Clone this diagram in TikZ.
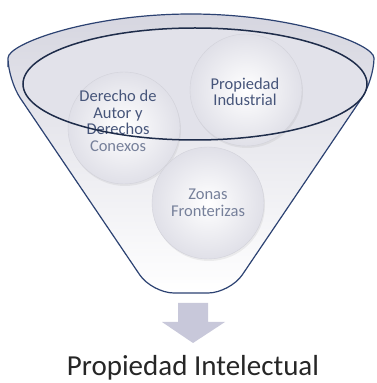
\documentclass[tikz,border=0pt]{standalone}
\usepackage{fontspec}
\setmainfont{Carlito}
\usetikzlibrary{shadows}

\definecolor{funnelline}{HTML}{2C4272}
\definecolor{funneltop}{HTML}{D6D6E0}
\definecolor{rimnavy}{HTML}{1E2C4A}
\definecolor{rimfill}{HTML}{E2E2EA}
\definecolor{bubbleline}{HTML}{D2D2DA}
\definecolor{bubbleedge}{HTML}{E0E0E8}
\definecolor{slate}{HTML}{46557A}
\definecolor{softslate}{HTML}{76809A}
\definecolor{arrowgray}{HTML}{C8C8DA}

\begin{document}
\begin{tikzpicture}[x=1pt,y=1pt,
    funnel/.style={draw=funnelline, line width=1.2pt, top color=funneltop, bottom color=white},
    bubble/.style={circle, minimum size=112pt, draw=bubbleline, inner color=white, outer color=bubbleedge,
                   drop shadow={opacity=0.12, shadow xshift=1pt, shadow yshift=-2pt}},
    bubbletext/.style={align=center, text=slate, font=\fontsize{16.5}{16.5}\selectfont},
    arrowfill/.style={fill=arrowgray}]

  \useasboundingbox (0,0) rectangle (376,383);

  % funnel body
  \path[funnel, rounded corners=22pt] (8,303) -- (152,90) -- (230,90) -- (374,303)
      arc[start angle=0, end angle=180, x radius=183, y radius=66] -- cycle;
  \fill[rimfill] (195,299) ellipse[x radius=172, y radius=56];

  % circles
  \node[bubble] (autor) at (124,255) {};
  \node[bubble] (industrial) at (246,293) {};
  \node[bubble] (zonas) at (208,180) {};

  \node[bubbletext] (autortxt) at (118,262) {Derecho de\\Autor y\\Derechos\\\textcolor{softslate}{Conexos}};
  \node[bubbletext] (industrialtxt) at (245,291) {Propiedad\\Industrial};
  \node[bubbletext, text=softslate] (zonastxt) at (208,180) {Zonas\\Fronterizas};

  % rim of the funnel
  \draw[rimnavy, line width=1.5pt] (195,299) ellipse[x radius=172, y radius=56];

  % arrow and result
  \path[arrowfill] (178,80) -- (208,80) -- (208,61) -- (225,61) -- (193,40) -- (162,61) -- (178,61) -- cycle;
  \node[anchor=base, inner sep=0pt, font=\fontsize{29}{32}\selectfont, text=black!85] (intelectual) at (193,8) {Propiedad Intelectual};

\end{tikzpicture}
\end{document}
